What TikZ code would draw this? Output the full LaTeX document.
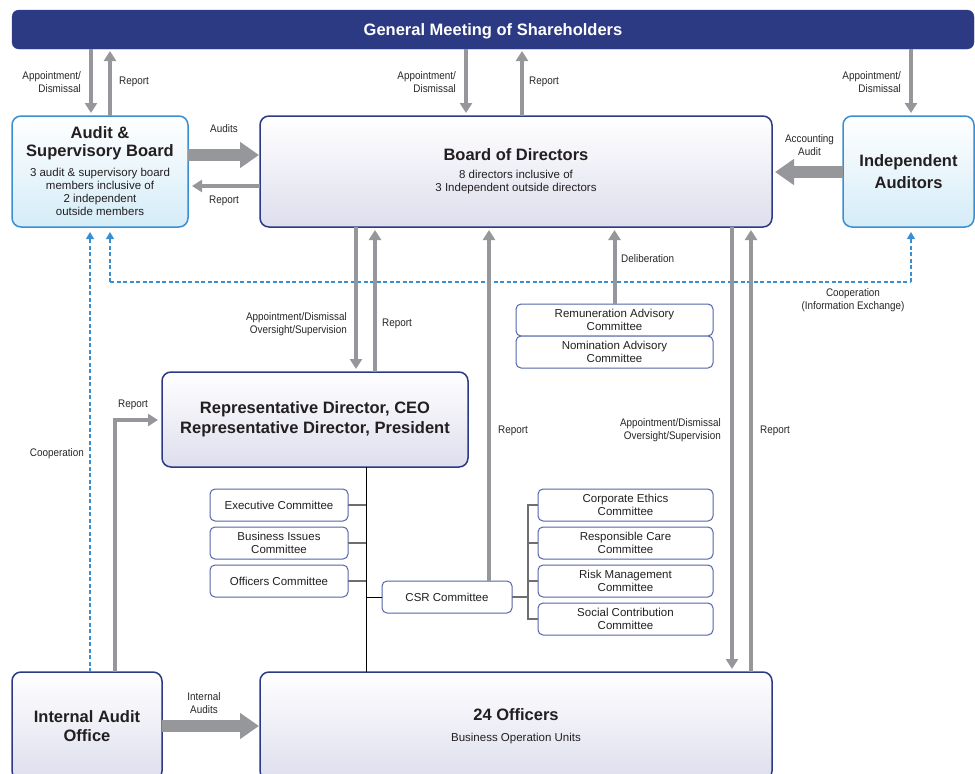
\documentclass[tikz,border=0pt]{standalone}
\usepackage{fontspec}
\setmainfont{Liberation Sans}
\newfontfamily\labfont[FakeStretch=0.9]{Liberation Sans}
\usetikzlibrary{arrows.meta}
\definecolor{navy}{HTML}{2C3A84}
\definecolor{lav}{HTML}{DEDEEE}
\definecolor{skyb}{HTML}{3A8FD3}
\definecolor{skyl}{HTML}{D4ECF8}
\definecolor{agrey}{HTML}{96979A}
\definecolor{txt}{HTML}{231F20}
\definecolor{cbord}{HTML}{5664AA}
\definecolor{brgrey}{HTML}{6E6E70}
\newcommand\ttlfont{\fontsize{16.5}{19}\selectfont\bfseries}
\tikzset{
 basebox/.style={align=center, inner sep=0pt, outer sep=0pt, anchor=north west, text=txt},
 gmsbox/.style={basebox, draw=navy, fill=navy, rounded corners=7pt, text=white},
 navybox/.style={basebox, draw=navy, line width=1.5pt, rounded corners=9pt, top color=white, bottom color=lav},
 bluebox/.style={basebox, draw=skyb, line width=1.5pt, rounded corners=9pt, top color=white, bottom color=skyl},
 combox/.style={basebox, draw=cbord, line width=1pt, rounded corners=5pt, fill=white, font=\fontsize{11.5}{13}\selectfont},
 thinarr/.style={draw=agrey, line width=4pt, -{Triangle[length=10pt,width=12pt]}},
 thickarr/.style={draw=agrey, line width=12pt, -{Triangle[length=19pt,width=25pt]}},
 coop/.style={draw=skyb, line width=1.3pt, dash pattern=on 4pt off 2.5pt},
 cooptip/.style={-{Triangle[length=7pt,width=8pt]}},
 lab/.style={text=black!85, font=\labfont\fontsize{11}{13}\selectfont, inner sep=0pt, align=center},
 labr/.style={lab, align=right, anchor=east},
 labl/.style={lab, align=left, anchor=west},
 branch/.style={draw=brgrey, line width=1.1pt},
}
\begin{document}
\begin{tikzpicture}[x=1pt,y=-1pt]
\useasboundingbox (0,0) rectangle (975,774);

% main boxes
\node[gmsbox, minimum width=962pt, minimum height=39pt, font=\ttlfont, text depth=0pt] (gms) at (12,10) {General Meeting of Shareholders};
\node[bluebox, minimum width=176pt, minimum height=111pt, font=\fontsize{11.5}{13}\selectfont] (aud) at (12,116)
 {{\ttlfont Audit \&}\\[5pt]{\ttlfont Supervisory Board}\\[7pt]3 audit \& supervisory board\\members inclusive of\\2 independent\\outside members};
\node[navybox, minimum width=512pt, minimum height=111pt, font=\fontsize{11.5}{13}\selectfont] (bod) at (260,116)
 {{\ttlfont Board of Directors}\\[5pt]8 directors inclusive of\\3 Independent outside directors};
\node[bluebox, minimum width=131pt, minimum height=111pt, font=\ttlfont] (ind) at (843,116)
 {Independent\\[3pt]Auditors};
\node[navybox, minimum width=306pt, minimum height=95pt, font=\ttlfont] (rep) at (162,372)
 {Representative Director, CEO\\[1pt]Representative Director, President};
\node[navybox, minimum width=150pt, minimum height=108pt, font=\ttlfont] (iao) at (12,672)
 {Internal Audit\\[0pt]Office};
\node[navybox, minimum width=512pt, minimum height=108pt, font=\fontsize{11.5}{13}\selectfont] (off) at (260,672)
 {{\ttlfont 24 Officers}\\[8pt]Business Operation Units};

% committees
\node[combox, minimum width=197pt, minimum height=32pt] (rem) at (516,304) {Remuneration Advisory\\Committee};
\node[combox, minimum width=197pt, minimum height=32pt] (nom) at (516,336) {Nomination Advisory\\Committee};
\node[combox, minimum width=138pt, minimum height=32pt] (exe) at (210,489) {Executive Committee};
\node[combox, minimum width=138pt, minimum height=32pt] (bus) at (210,527) {Business Issues\\Committee};
\node[combox, minimum width=138pt, minimum height=32pt] (ofc) at (210,565) {Officers Committee};
\node[combox, minimum width=130pt, minimum height=32pt] (csr) at (382,581) {CSR Committee};
\node[combox, minimum width=175pt, minimum height=32pt] (ce) at (538,489) {Corporate Ethics\\Committee};
\node[combox, minimum width=175pt, minimum height=32pt] (rc) at (538,527) {Responsible Care\\Committee};
\node[combox, minimum width=175pt, minimum height=32pt] (rm) at (538,565) {Risk Management\\Committee};
\node[combox, minimum width=175pt, minimum height=32pt] (sc) at (538,603) {Social Contribution\\Committee};

% dashed cooperation lines
\coordinate (cl) at (110,282);
\coordinate (cr) at (911,282);
\draw[coop] (cl) -- (cr);
\draw[coop, cooptip, shorten >=5pt] (cl) -- (cl |- aud.south);
\draw[coop, cooptip, shorten >=5pt] (cr) -- (cr |- ind.south);
\draw[coop, cooptip, shorten >=5pt] (90,0 |- iao.north) -- (90,0 |- aud.south);

% organisational lines
\draw[black, line width=0.9pt] (366,0 |- rep.south) -- (366,0 |- off.north);
\draw[branch] (exe.east) -- (366,0 |- exe.east);
\draw[branch] (bus.east) -- (366,0 |- bus.east);
\draw[branch] (ofc.east) -- (366,0 |- ofc.east);
\draw[black, line width=0.9pt] (csr.west) -- (366,0 |- csr.west);
\draw[branch] (csr.east) -- (528,0 |- csr.east);
\draw[branch] (ce.west) -- (528,0 |- ce.west) -- (528,0 |- sc.west) -- (sc.west);
\draw[branch] (rc.west) -- (528,0 |- rc.west);
\draw[branch] (rm.west) -- (528,0 |- rm.west);

% arrows from / to GMS
\draw[thinarr, shorten >=3pt] (91,0 |- gms.south) -- (91,0 |- aud.north);
\draw[thinarr, shorten >=2pt] (110,0 |- aud.north) -- (110,0 |- gms.south);
\draw[thinarr, shorten >=3pt] (466,0 |- gms.south) -- (466,0 |- bod.north);
\draw[thinarr, shorten >=2pt] (522,0 |- bod.north) -- (522,0 |- gms.south);
\draw[thinarr, shorten >=3pt] (911,0 |- gms.south) -- (911,0 |- ind.north);

% audit board <-> board
\draw[thickarr, shorten >=1pt] (aud.east |- 0,155) -- (bod.west |- 0,155);
\draw[thinarr, shorten >=4pt] (bod.west |- 0,186) -- (aud.east |- 0,186);
\draw[thickarr, shorten >=3pt] (ind.west |- 0,172) -- (bod.east |- 0,172);

% board <-> representative director
\draw[thinarr, shorten >=3pt] (356,0 |- bod.south) -- (356,0 |- rep.north);
\draw[thinarr, shorten >=3pt] (375,0 |- rep.north) -- (375,0 |- bod.south);
\draw[thinarr, shorten >=3pt] (489,0 |- csr.north) -- (489,0 |- bod.south);
\draw[thinarr, shorten >=3pt] (rem.north) -- (rem.north |- bod.south);
\draw[thinarr, shorten >=3pt] (732,0 |- bod.south) -- (732,0 |- off.north);
\draw[thinarr, shorten >=3pt] (751,0 |- off.north) -- (751,0 |- bod.south);

% internal audit office
\draw[thinarr, shorten >=4pt] (115,0 |- iao.north) |- (rep.west |- 0,420);
\draw[thickarr, shorten >=1pt] (iao.east |- 0,726) -- (off.west |- 0,726);

% labels
\node[labr] (l1) at (81,82.5) {Appointment/\\Dismissal};
\node[labl] (l2) at (119,82) {Report};
\node[labr] (l3) at (456,82.5) {Appointment/\\Dismissal};
\node[labl] (l4) at (529,82) {Report};
\node[labr] (l5) at (901,82.5) {Appointment/\\Dismissal};
\node[lab] (l6) at (224,129) {Audits};
\node[lab] (l7) at (224,201) {Report};
\node[lab] (l8) at (809.5,145) {Accounting\\Audit};
\node[labl] (l9) at (621,259) {Deliberation};
\node[lab] (l10) at (853,300) {Cooperation\\(Information Exchange)};
\node[labr] (l11) at (347,324.5) {Appointment/Dismissal\\Oversight/Supervision};
\node[labl] (l12) at (382,324) {Report};
\node[lab] (l13) at (133,405) {Report};
\node[labr] (l14) at (84,454) {Cooperation};
\node[lab] (l15) at (513,431) {Report};
\node[labr] (l16) at (721,430.5) {Appointment/Dismissal\\Oversight/Supervision};
\node[lab] (l17) at (775,431) {Report};
\node[lab] (l18) at (204,703) {Internal\\Audits};
\end{tikzpicture}
\end{document}
